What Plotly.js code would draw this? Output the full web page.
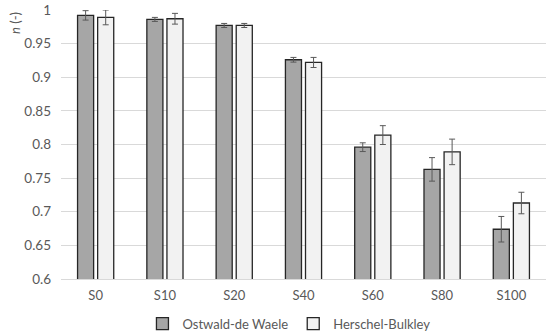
<!DOCTYPE html>
<html>
<head>
<meta charset="utf-8">
<script src="https://cdn.plot.ly/plotly-3.0.1.min.js"></script>
<style>html,body{margin:0;padding:0;background:#fff;}#chart{width:550px;height:336px;}</style>
</head>
<body>
<div id="chart"></div>
<script>
const categories = ["S0", "S10", "S20", "S40", "S60", "S80", "S100"];
const ostwaldValues = [0.992, 0.986, 0.977, 0.926, 0.796, 0.763, 0.674];
const ostwaldErrors = [0.007, 0.003, 0.003, 0.0035, 0.0065, 0.0175, 0.019];
const herschelValues = [0.989, 0.987, 0.977, 0.922, 0.814, 0.789, 0.713];
const herschelErrors = [0.011, 0.008, 0.003, 0.0075, 0.014, 0.019, 0.016];
const yTicks = [0.6, 0.65, 0.7, 0.75, 0.8, 0.85, 0.9, 0.95, 1];
const yTickText = ["0.6", "0.65", "0.7", "0.75", "0.8", "0.85", "0.9", "0.95", "1"];

const font = "Lato, 'Open Sans', sans-serif";
const errStyle = {type: "data", visible: true, color: "#595959", thickness: 1, width: 3};

const traces = [
  {
    type: "bar", name: "Ostwald-de Waele", x: categories, y: ostwaldValues,
    error_y: Object.assign({array: ostwaldErrors}, errStyle),
    marker: {color: "#a6a6a6", line: {color: "#262626", width: 1.3}}
  },
  {
    type: "bar", name: "Herschel-Bulkley", x: categories, y: herschelValues,
    error_y: Object.assign({array: herschelErrors}, errStyle),
    marker: {color: "#f2f2f2", line: {color: "#262626", width: 1.3}}
  }
];

const layout = {
  width: 550, height: 336,
  margin: {l: 61, r: 4, t: 10, b: 57, autoexpand: false},
  paper_bgcolor: "#ffffff", plot_bgcolor: "#ffffff",
  font: {family: font, size: 13, color: "#595959"},
  barmode: "group", bargap: 0.42, bargroupgap: 0.2,
  xaxis: {
    type: "category", showgrid: false, zeroline: false, automargin: false,
    showline: true, linecolor: "#d9d9d9", linewidth: 1,
    ticks: "", ticklabelstandoff: 4, tickfont: {family: font, size: 13, color: "#595959"}
  },
  yaxis: {
    range: [0.6, 1], tickvals: yTicks, ticktext: yTickText, automargin: false,
    showgrid: true, gridcolor: "#d9d9d9", gridwidth: 1, zeroline: false,
    showline: false, ticks: "", ticklabelstandoff: 9,
    tickfont: {family: font, size: 13.5, color: "#595959"}
  },
  showlegend: true,
  legend: {
    orientation: "h", x: 0.47, xanchor: "center", y: -0.11, yanchor: "top",
    font: {family: font, size: 13, color: "#595959"},
    itemwidth: 30, tracegroupgap: 0, traceorder: "normal"
  },
  annotations: [{
    xref: "paper", yref: "paper", x: -0.095, y: 1.0, xanchor: "center", yanchor: "top",
    text: "<i>n</i> (-)", textangle: -90, showarrow: false,
    font: {family: font, size: 13, color: "#595959"}
  }]
};

Plotly.newPlot("chart", traces, layout, {displayModeBar: false, staticPlot: true});
</script>
</body>
</html>
